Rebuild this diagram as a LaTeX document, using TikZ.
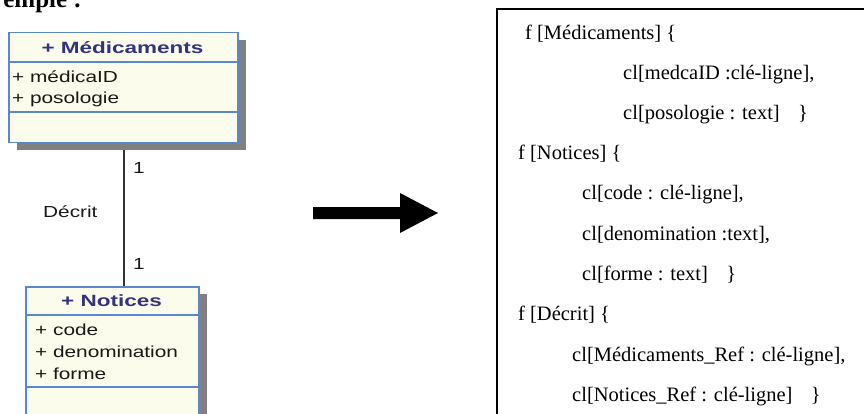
\documentclass[tikz,border=0pt]{standalone}
\usepackage{fontspec}
\setmainfont{Liberation Serif}
\newfontfamily\umlfont{Liberation Sans}[FakeStretch=1.3]
\newfontfamily\umlheadfont{Liberation Sans}[FakeStretch=1.38]
\usetikzlibrary{shadows}
\definecolor{umlfill}{HTML}{FCFCEC}
\definecolor{umlborder}{HTML}{5B87D0}
\definecolor{umlhead}{HTML}{33337F}
\definecolor{umlshadow}{HTML}{808080}
\definecolor{umlline}{HTML}{333333}
\begin{document}
\begin{tikzpicture}[x=1pt,y=-1pt,
  classbox/.style={draw=umlborder, fill=umlfill, line width=1.5pt, inner sep=0pt, anchor=north west,
     drop shadow={shadow xshift=8pt, shadow yshift=-7pt, fill=umlshadow, opacity=1}},
  sepline/.style={draw=umlborder, line width=1.5pt},
  headtxt/.style={anchor=base, inner sep=0pt, text=umlhead, font=\umlheadfont\bfseries\fontsize{16.3}{18}\selectfont},
  attr/.style={anchor=base west, inner sep=0pt, text=black!90, font=\umlfont\fontsize{16}{18}\selectfont},
  assoc/.style={draw=umlline, line width=2pt},
  codeline/.style={anchor=base west, inner sep=0pt, font=\fontsize{20.5}{24}\selectfont},
]
\useasboundingbox (0,0) rectangle (864,414);

% title fragment
\node[anchor=base east, inner sep=0pt, font=\bfseries\fontsize{25}{28}\selectfont] (title) at (82,7.5) {emple :};

% class Médicaments
\node[classbox, minimum width=229pt, minimum height=110pt] (med) at (8,32) {};
\draw[sepline] ([yshift=-30pt]med.north west) -- ([yshift=-30pt]med.north east);
\draw[sepline] ([yshift=-80pt]med.north west) -- ([yshift=-80pt]med.north east);
\node[headtxt] (medh) at (122.5,54) {+ Médicaments};
\node[attr] (meda1) at (12,83) {+ médicaID};
\node[attr] (meda2) at (12,103.5) {+ posologie};

% class Notices
\node[classbox, minimum width=173pt, minimum height=150pt] (not) at (25,286) {};
\draw[sepline] ([yshift=-29pt]not.north west) -- ([yshift=-29pt]not.north east);
\draw[sepline] ([yshift=-101pt]not.north west) -- ([yshift=-101pt]not.north east);
\node[headtxt] (noth) at (111.5,306.5) {+ Notices};
\node[attr] (nota1) at (35,335) {+ code};
\node[attr] (nota2) at (35,357) {+ denomination};
\node[attr] (nota3) at (35,379) {+ forme};

% association
\coordinate (lx) at (124,0);
\draw[assoc] ([yshift=-7pt]med.south -| lx) -- (not.north -| lx);
\node[attr] (m1) at (133,174) {1};
\node[attr] (m2) at (133,269) {1};
\node[attr] (rel) at (43,217) {Décrit};

% big arrow
\fill[black] (313,207) -- (400,207) -- (400,193) -- (438,213) -- (400,233) -- (400,219) -- (313,219) -- cycle;

% mapping box
\node[draw, line width=1.8pt, minimum width=420pt, minimum height=430pt, anchor=north west, inner sep=0pt] (map) at (496,8) {};
\node[codeline] (l1) at (525,40) {f [Médicaments] \{};
\node[codeline] (l2) at (623,80) {cl[medcaID :clé-ligne],};
\node[codeline] (l3) at (623,120) {cl[posologie : text]\hspace{0.9em}\}};
\node[codeline] (l4) at (518,160) {f [Notices] \{};
\node[codeline] (l5) at (582,200) {cl[code : clé-ligne],};
\node[codeline] (l6) at (582,240.5) {cl[denomination :text],};
\node[codeline] (l7) at (582,280.5) {cl[forme : text]\hspace{0.9em}\}};
\node[codeline] (l8) at (518,320.5) {f [Décrit] \{};
\node[codeline] (l9) at (572,361) {cl[Médicaments\_Ref : clé-ligne],};
\node[codeline] (l10) at (572,401) {cl[Notices\_Ref : clé-ligne]\hspace{0.9em}\}};
\end{tikzpicture}
\end{document}
